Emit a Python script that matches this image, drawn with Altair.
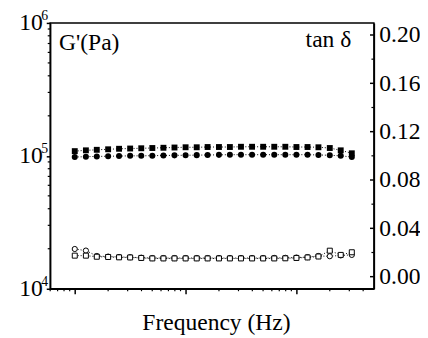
import altair as alt
import pandas as pd

# Frequency (Hz), 0.1 decade spacing
freq = [0.1, 0.126, 0.158, 0.2, 0.251, 0.316, 0.398, 0.501, 0.631, 0.794,
        1.0, 1.26, 1.58, 2.0, 2.51, 3.16, 3.98, 5.01, 6.31, 7.94,
        10.0, 12.6, 15.8, 20.0, 25.1, 31.6]

# G' (Pa) - filled squares
g_square = [1.085e5, 1.10e5, 1.11e5, 1.12e5, 1.13e5, 1.135e5, 1.14e5, 1.145e5, 1.15e5, 1.155e5,
            1.16e5, 1.16e5, 1.165e5, 1.165e5, 1.165e5, 1.17e5, 1.17e5, 1.17e5, 1.17e5, 1.17e5,
            1.165e5, 1.165e5, 1.16e5, 1.145e5, 1.10e5, 1.045e5]
# G' (Pa) - filled circles
g_circle = [0.98e5, 0.985e5, 0.99e5, 0.993e5, 0.996e5, 1.0e5, 1.0e5, 1.003e5, 1.006e5, 1.008e5,
            1.01e5, 1.012e5, 1.015e5, 1.017e5, 1.02e5, 1.02e5, 1.02e5, 1.02e5, 1.02e5, 1.02e5,
            1.02e5, 1.02e5, 1.015e5, 1.01e5, 1.0e5, 0.98e5]
# tan delta - open squares
tan_square = [0.0174, 0.0174, 0.0165, 0.0163, 0.0160, 0.0159, 0.0155, 0.0151, 0.0151, 0.0151,
              0.0151, 0.0151, 0.0151, 0.0151, 0.0151, 0.0151, 0.0151, 0.0151, 0.0151, 0.0152,
              0.0155, 0.0159, 0.0167, 0.0215, 0.0180, 0.0202]
# tan delta - open circles
tan_circle = [0.0229, 0.0216, 0.0171, 0.0166, 0.0163, 0.0161, 0.0157, 0.0154, 0.0154, 0.0154,
              0.0154, 0.0154, 0.0154, 0.0154, 0.0154, 0.0154, 0.0154, 0.0154, 0.0155, 0.0156,
              0.0158, 0.0162, 0.0171, 0.0169, 0.0176, 0.0180]

x_major = [0.1, 1, 10]
x_minor = [0.06, 0.07, 0.08, 0.09, 0.2, 0.3, 0.4, 0.5, 0.6, 0.7, 0.8, 0.9,
           2, 3, 4, 5, 6, 7, 8, 9, 20, 30, 40]
g_major = [1e4, 1e5, 1e6]
g_exp = ["4", "5", "6"]
g_minor = [2e4, 3e4, 4e4, 5e4, 6e4, 7e4, 8e4, 9e4, 2e5, 3e5, 4e5, 5e5, 6e5, 7e5, 8e5, 9e5]
tan_major = [0.0, 0.04, 0.08, 0.12, 0.16, 0.20]
tan_minor = [0.02, 0.06, 0.10, 0.14, 0.18]

W, H = 330, 271
FONT = "Liberation Serif"
FS = 24

xscale = alt.Scale(type="log", domain=[0.06, 50])
gscale = alt.Scale(type="log", domain=[1e4, 1e6])
tscale = alt.Scale(domain=[-0.01, 0.21])

df = pd.DataFrame({"f": freq, "gs": g_square, "gc": g_circle, "ts": tan_square, "tc": tan_circle})

x_axis = alt.Axis(values=x_major, labels=False, tickSize=5, tickWidth=1.5, domainWidth=1.5,
                  title="Frequency (Hz)", titlePadding=17, titleX=W / 2 + 4, grid=False)
g_axis = alt.Axis(values=g_major, labelExpr="'10'", tickSize=4, tickWidth=1.5, domainWidth=1.5,
                  labelPadding=4, title=None, grid=False, orient="left", labelFlush=False)
t_axis = alt.Axis(values=tan_major, format=".2f", ticks=False, labelPadding=5, title=None,
                  grid=False, orient="right", labelFlush=False, domainWidth=1.5)

base = alt.Chart(df)
X = alt.X("f:Q", scale=xscale, axis=x_axis)

dash = dict(strokeDash=[1, 2], strokeWidth=1, color="black")

g_lines_s = base.mark_line(**dash).encode(x=X, y=alt.Y("gs:Q", scale=gscale, axis=g_axis))
g_lines_c = base.mark_line(**dash).encode(x=X, y=alt.Y("gc:Q", scale=gscale, axis=g_axis))
g_pts_s = base.mark_point(shape="square", filled=True, color="black", size=36, opacity=1).encode(
    x=X, y=alt.Y("gs:Q", scale=gscale, axis=g_axis))
g_pts_c = base.mark_point(shape="circle", filled=True, color="black", size=38, opacity=1).encode(
    x=X, y=alt.Y("gc:Q", scale=gscale, axis=g_axis))

gmin = alt.Chart(pd.DataFrame({"v": g_minor})).mark_rule(color="black", strokeWidth=1.2).encode(
    y=alt.Y("v:Q", scale=gscale, axis=g_axis), x=alt.value(-2.5), x2=alt.value(0))
gexp = alt.Chart(pd.DataFrame({"v": g_major, "e": g_exp})).mark_text(
    font=FONT, fontSize=14, align="left", baseline="middle", dy=-7, color="black").encode(
    y=alt.Y("v:Q", scale=gscale, axis=g_axis), x=alt.value(-9), text="e:N")
xmin = alt.Chart(pd.DataFrame({"f": x_minor})).mark_rule(color="black", strokeWidth=1.2).encode(
    x=X, y=alt.value(H), y2=alt.value(H + 2.5))

ann = alt.Chart(pd.DataFrame({"a": [1]}))
g_text = ann.mark_text(text="G'(Pa)", font=FONT, fontSize=FS, align="left",
                       baseline="alphabetic", color="black").encode(x=alt.value(9), y=alt.value(28))
t_text = ann.mark_text(text="tan δ", font=FONT, fontSize=FS, align="right",
                       baseline="alphabetic", color="black").encode(x=alt.value(307), y=alt.value(25))

g_layer = alt.layer(g_lines_s, g_lines_c, g_pts_s, g_pts_c, gmin, gexp, xmin, g_text, t_text)

t_lines_s = base.mark_line(**dash).encode(x=X, y=alt.Y("ts:Q", scale=tscale, axis=t_axis))
t_lines_c = base.mark_line(**dash).encode(x=X, y=alt.Y("tc:Q", scale=tscale, axis=t_axis))
t_pts_s = base.mark_point(shape="square", filled=False, color="black", fill="white", fillOpacity=1,
                          size=26, strokeWidth=1, opacity=1).encode(
    x=X, y=alt.Y("ts:Q", scale=tscale, axis=t_axis))
t_pts_c = base.mark_point(shape="circle", filled=False, color="black", fill="white", fillOpacity=1,
                          size=28, strokeWidth=1, opacity=1).encode(
    x=X, y=alt.Y("tc:Q", scale=tscale, axis=t_axis))
tmaj = alt.Chart(pd.DataFrame({"v": tan_major})).mark_rule(color="black", strokeWidth=1.5).encode(
    y=alt.Y("v:Q", scale=tscale, axis=t_axis), x=alt.value(W - 4), x2=alt.value(W))
tmin = alt.Chart(pd.DataFrame({"v": tan_minor})).mark_rule(color="black", strokeWidth=1.2).encode(
    y=alt.Y("v:Q", scale=tscale, axis=t_axis), x=alt.value(W - 2.5), x2=alt.value(W))

t_layer = alt.layer(t_lines_s, t_lines_c, t_pts_c, t_pts_s, tmaj, tmin)

chart = alt.layer(g_layer, t_layer).resolve_scale(y="independent").properties(
    width=W, height=H,
    padding={"left": 43, "top": 12, "right": 47, "bottom": 47},
    autosize=alt.AutoSizeParams(type="none"),
).configure_axis(
    labelFont=FONT, titleFont=FONT, labelFontSize=FS, titleFontSize=FS,
    titleFontWeight="normal", labelColor="black", titleColor="black",
    domainColor="black", tickColor="black",
).configure_view(stroke="black", strokeWidth=1.5)

chart.save("out.html", embed_options={"renderer": "svg", "actions": False})
